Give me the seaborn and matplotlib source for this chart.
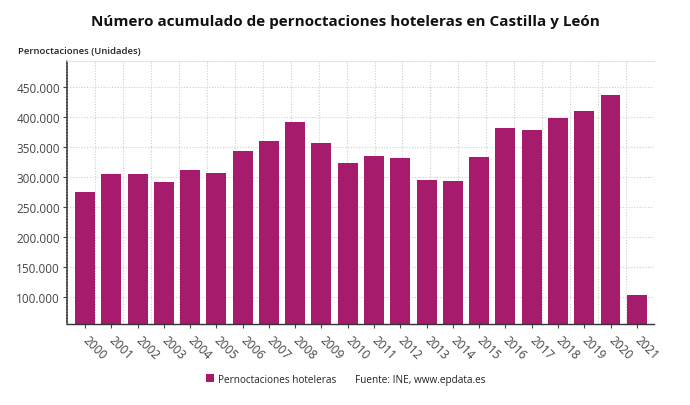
import matplotlib
matplotlib.use("Agg")
import matplotlib.pyplot as plt
import seaborn as sns
import pandas as pd
import numpy as np
from matplotlib.ticker import FuncFormatter, FixedLocator

years = [str(y) for y in range(2000, 2022)]
values = [275000, 305000, 305000, 292000, 312000, 307000, 343000, 360000, 392000,
          357000, 323000, 335000, 332000, 295000, 293000, 333000, 382000, 378000,
          398000, 410000, 437000, 103000]
yticks = [100000, 150000, 200000, 250000, 300000, 350000, 400000, 450000]

title = "Número acumulado de pernoctaciones hoteleras en Castilla y León"
ylabel = "Pernoctaciones (Unidades)"
series_name = "Pernoctaciones hoteleras"
source = "Fuente: INE, www.epdata.es"
bar_color = "#A61B6B"

sns.set_theme(style="white")
plt.rcParams['font.family'] = ['Open Sans', 'DejaVu Sans']

df = pd.DataFrame({"year": years, "value": values})

fig = plt.figure(figsize=(6.9, 4.06), dpi=100)
ax = fig.add_axes([0.0971, 0.1995, 0.948 - 0.0971, 0.847 - 0.1995])

sns.barplot(data=df, x="year", y="value", color=bar_color, saturation=1,
            width=0.76, ax=ax, label=series_name, legend=False)
for p in ax.patches:
    p.set_edgecolor("none")

x0, x1 = -0.685, 21.66
ax.set_xlim(x0, x1)
ax.set_ylim(55000, 493000)

ax.set_yticks(yticks)
ax.yaxis.set_major_formatter(FuncFormatter(lambda v, p: f"{int(v):,}".replace(",", ".")))
ax.xaxis.set_minor_locator(FixedLocator([x0 + k * (x1 - x0) / 21 for k in range(1, 22)]))

ax.grid(False)
ax.grid(axis="y", which="major", color="#cfcfcf", linestyle=(0, (1, 1.5)), linewidth=0.8)
ax.grid(axis="x", which="minor", color="#cfcfcf", linestyle=(0, (1, 1.5)), linewidth=0.8)
ax.set_axisbelow(True)

ax.spines["right"].set_visible(False)
ax.spines["top"].set_color("#dddddd")
ax.spines["top"].set_linestyle((0, (1, 1.5)))
ax.spines["top"].set_linewidth(0.8)
ax.spines["left"].set_color("#444444")
ax.spines["left"].set_linestyle((0, (1, 0.8)))
ax.spines["left"].set_linewidth(1.2)
ax.spines["bottom"].set_color("#333333")
ax.spines["bottom"].set_linewidth(1.0)

ax.tick_params(axis="y", which="major", length=3, width=0.8, color="#444444",
               labelsize=8.5, labelcolor="#444444", pad=2, left=True)
ax.tick_params(axis="x", which="major", length=3, width=0.8, color="#444444",
               labelsize=8.6, labelcolor="#444444", pad=7, bottom=True)
ax.tick_params(axis="x", which="minor", length=0)
for lbl in ax.get_xticklabels():
    lbl.set_rotation(-45)
    lbl.set_ha("left")
    lbl.set_va("center")
    lbl.set_rotation_mode("anchor")

ax.set_xlabel("")
ax.set_ylabel("")

fig.text(0.5, 0.945, title, ha="center", va="center", fontsize=11,
         fontweight="bold", color="#111111")
fig.text(0.026, 0.872, ylabel, ha="left", va="center", fontsize=6.8,
         fontweight="semibold", color="#222222")

handles = [ax.patches[0]]
fig.legend(handles, [series_name], loc="center left", bbox_to_anchor=(0.293, 0.064),
           frameon=False, fontsize=7.2, handlelength=0.8, handleheight=0.8,
           handletextpad=0.4, borderaxespad=0)
fig.text(0.514, 0.064, source, ha="left", va="center", fontsize=7.2, color="#222222")

fig.savefig("out.png", dpi=100)
